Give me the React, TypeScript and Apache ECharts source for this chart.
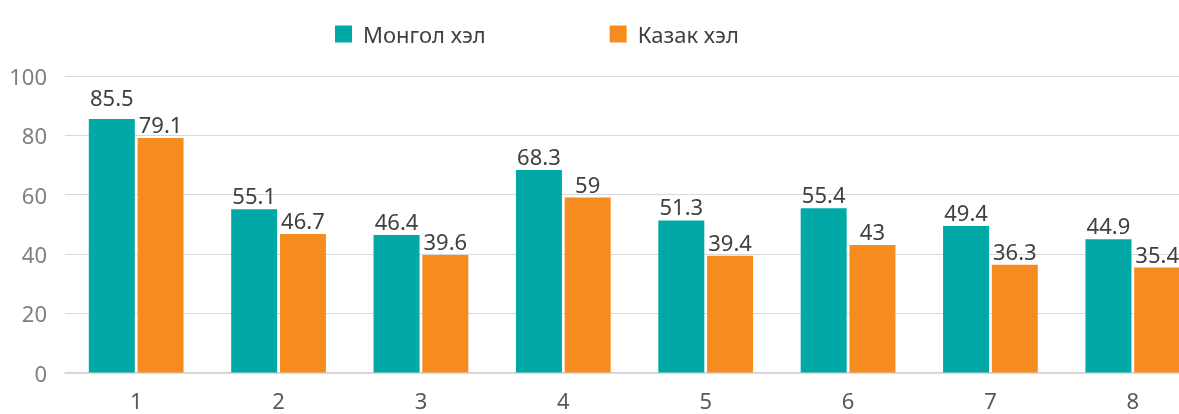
import React, { useEffect, useRef } from "react";
import * as echarts from "echarts";

const categories = ["1", "2", "3", "4", "5", "6", "7", "8"];
const mongolValues = [85.5, 55.1, 46.4, 68.3, 51.3, 55.4, 49.4, 44.9];
const kazakValues = [79.1, 46.7, 39.6, 59, 39.4, 43, 36.3, 35.4];
const seriesNames = ["Монгол хэл", "Казак хэл"];

const FONT = "'Noto Sans', 'Open Sans', sans-serif";

export default function App() {
  const ref = useRef<HTMLDivElement>(null);
  useEffect(() => {
    if (!ref.current) return;
    const chart = echarts.init(ref.current, undefined, { renderer: "svg" });
    const labelBase = {
      show: true,
      position: "top",
      distance: 3,
      color: "#404040",
      fontSize: 22,
      fontFamily: FONT,
    };
    chart.setOption({
      animation: false,
      textStyle: { fontFamily: FONT },
      legend: {
        left: 330,
        top: 18,
        itemWidth: 17,
        itemHeight: 17,
        itemGap: 124,
        icon: "rect",
        textStyle: { fontSize: 22, color: "#404040", fontFamily: FONT, padding: [0, 0, 0, 6] },
        data: seriesNames,
      },
      grid: { left: 65, right: 11, top: 76, bottom: 41.5, containLabel: false },
      xAxis: {
        type: "category",
        data: categories,
        axisTick: { show: false },
        axisLine: { lineStyle: { color: "#d0d0d0", width: 1.5 } },
        axisLabel: { color: "#595959", fontSize: 22, margin: 16, fontFamily: FONT },
      },
      yAxis: {
        type: "value",
        min: 0,
        max: 100,
        interval: 20,
        axisLine: { show: false },
        axisTick: { show: false },
        splitLine: { lineStyle: { color: "#d9d9d9", width: 1 } },
        axisLabel: { color: "#7f7f7f", fontSize: 22, margin: 18, fontFamily: FONT },
      },
      series: [
        {
          name: seriesNames[0],
          type: "bar",
          barWidth: 46,
          barGap: "6%",
          itemStyle: { color: "#00A9A5" },
          label: labelBase,
          data: mongolValues.map((v, i) =>
            i === 0 ? { value: v, label: { distance: 11 } } : v
          ),
        },
        {
          name: seriesNames[1],
          type: "bar",
          barWidth: 46,
          barGap: "6%",
          itemStyle: { color: "#F68C1F" },
          label: labelBase,
          data: kazakValues,
        },
      ],
    });
    return () => chart.dispose();
  }, []);
  return (
    <div style={{ position: "fixed", left: 0, top: 0, width: 1179, height: 414, overflow: "hidden" }}>
      <div ref={ref} style={{ width: 1215, height: 414 }} />
    </div>
  );
}
